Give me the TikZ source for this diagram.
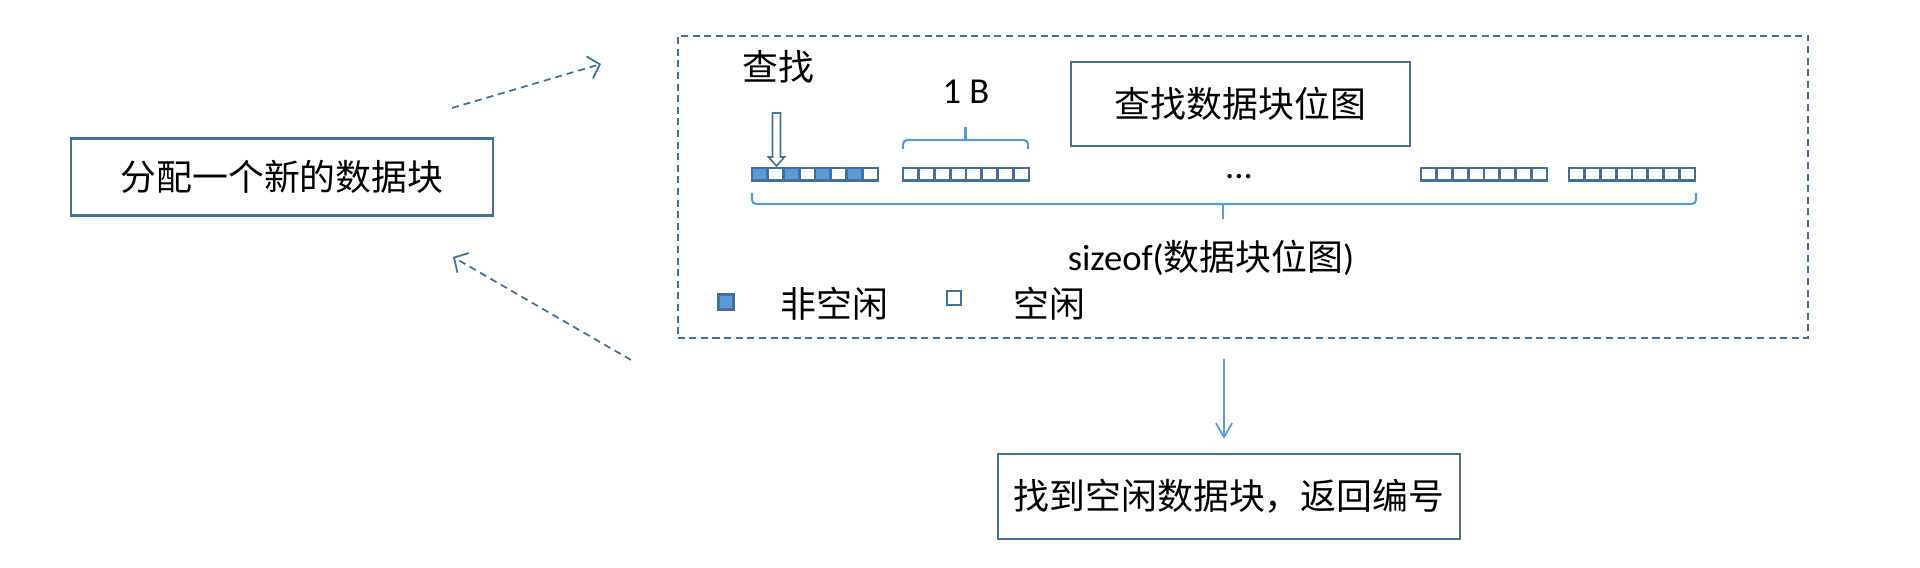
\documentclass[tikz,border=0pt]{standalone}
\usepackage{fontspec}
\setmainfont{Carlito}
\newfontfamily\cjk{Noto Sans CJK SC}
\usetikzlibrary{arrows.meta, positioning, calc}
\definecolor{edgec}{HTML}{41719C}
\definecolor{fillc}{HTML}{5B9BD5}

\begin{document}
\begin{tikzpicture}[
    x=0.01cm, y=-0.01cm,
    every node/.style={font=\cjk\fontsize{10.2pt}{12pt}\selectfont, inner sep=0pt},
    lat/.style={font=\fontsize{10.4pt}{12pt}\selectfont},
    box/.style={draw=edgec, line width=0.6pt, fill=white},
    frame/.style={draw=edgec, line width=0.55pt, dash pattern=on 2pt off 1.3pt},
    cell/.style={draw=edgec, line width=0.8pt},
    busy/.style={cell, fill=fillc},
    brace/.style={fillc, line width=0.6pt, rounded corners=1.2pt},
    flow/.style={edgec, line width=0.5pt, dash pattern=on 2pt off 1.4pt,
        -{Straight Barb[length=3pt, width=6.5pt]}},
    back/.style={fillc, line width=0.5pt, -{Straight Barb[length=4pt, width=4.6pt]}},
]
\useasboundingbox (0,0) rectangle (1920,568);

% boxes
\node[box, minimum width=4.21cm, minimum height=0.77cm] (alloc) at (282,177) {分配一个新的数据块};
\node[frame, minimum width=11.30cm, minimum height=3.02cm] (bitmap) at (1243,187) {};
\node[box, minimum width=3.39cm, minimum height=0.84cm] (lookup) at (1240.5,104) {查找数据块位图};
\node[box, minimum width=4.62cm, minimum height=0.85cm] (found) at (1229,496.5) {找到空闲数据块，返回编号};

% the bitmap, one byte per group
\foreach \gx in {752, 903, 1421, 1569}{
    \foreach \i in {0,...,7}
        \draw[cell] ({\gx+\i*15.75},168) rectangle +(15.75,12.5);
}
\foreach \i in {0,2,4,6}
    \draw[busy] ({752+\i*15.75},168) rectangle +(15.75,12.5);
\node[lat] (dots) at (1239,177) {...};

% where the search starts
\node (seek) at (778,67) {查找};
\draw[edgec, line width=0.45pt, fill=white]
    (772.5,113) -- ++(8,0) -- ++(0,44) -- ++(4,0) -- ++(-8,9) -- ++(-8,-9) -- ++(4,0) -- cycle;

% braces
\draw[brace] (903,149) -- (903,140) -- (1028,140) -- (1028,149);
\draw[fillc, line width=0.6pt] (965.5,140) -- (965.5,127);
\node[lat] (onebyte) at (966,92) {1 B};
\draw[brace] (752,193) -- (752,204) -- (1696,204) -- (1696,193);
\draw[fillc, line width=0.6pt] (1223,204) -- (1223,219);
\node (size) at (1211,258) {{\fontsize{10.4pt}{12pt}\fontspec{Carlito}sizeof(}数据块位图{\fontsize{10.4pt}{12pt}\fontspec{Carlito})}};

% legend
\draw[busy] (718.5,294.5) rectangle +(15,15);
\node (busytag) at (834.5,304) {非空闲};
\draw[cell] (947,291) rectangle +(14,14);
\node (freetag) at (1049,304) {空闲};

% connectors
\coordinate (up0) at (452,108);
\coordinate (up1) at (601,64);
\coordinate (dn0) at (631,360);
\coordinate (dn1) at (453,257);
\coordinate (ret0) at (1224,359);
\coordinate (ret1) at (1224,439);
\draw[flow] (up0) -- (up1);
\draw[flow] (dn0) -- (dn1);
\draw[back] (ret0) -- (ret1);
\end{tikzpicture}
\end{document}
